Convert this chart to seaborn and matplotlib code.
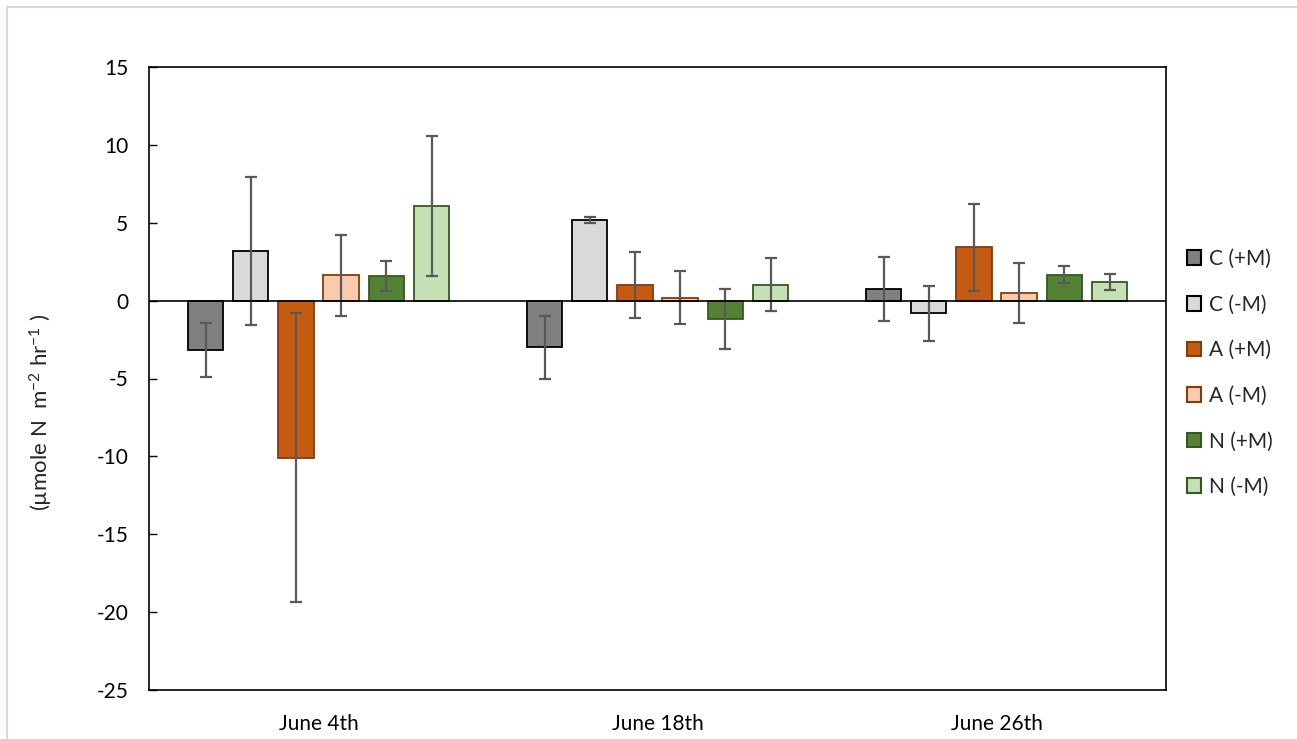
import matplotlib
matplotlib.use("Agg")
import matplotlib.pyplot as plt
from matplotlib.lines import Line2D
from matplotlib.patches import Patch
import numpy as np
import pandas as pd
import seaborn as sns

# Sampling dates and treatments
dates = ["June 4th", "June 18th", "June 26th"]
treatments = ["C (+M)", "C (-M)", "A (+M)", "A (-M)", "N (+M)", "N (-M)"]

# Mean flux per treatment, one value per date
c_plus = [-3.17, -3.00, 0.73]
c_minus = [3.18, 5.17, -0.82]
a_plus = [-10.08, 1.02, 3.42]
a_minus = [1.62, 0.19, 0.49]
n_plus = [1.56, -1.18, 1.66]
n_minus = [6.09, 1.02, 1.19]

# Error bar half-widths
c_plus_err = [1.71, 2.00, 2.05]
c_minus_err = [4.74, 0.17, 1.79]
a_plus_err = [9.28, 2.13, 2.78]
a_minus_err = [2.59, 1.70, 1.95]
n_plus_err = [0.96, 1.93, 0.56]
n_minus_err = [4.50, 1.69, 0.50]

means = [c_plus, c_minus, a_plus, a_minus, n_plus, n_minus]
errs = [c_plus_err, c_minus_err, a_plus_err, a_minus_err, n_plus_err, n_minus_err]

fill_colors = ["#808080", "#d9d9d9", "#c55a11", "#f8cbad", "#548235", "#c5e0b4"]
edge_colors = ["#000000", "#000000", "#843c0c", "#843c0c", "#385723", "#385723"]

rows = []
for t, vals, ers in zip(treatments, means, errs):
    for d, v, e in zip(dates, vals, ers):
        rows.append({"date": d, "treatment": t, "flux": v, "err": e})
df = pd.DataFrame(rows)

sns.set_theme(style="white")
plt.rcParams["font.family"] = ["Lato", "DejaVu Sans"]
plt.rcParams["axes.unicode_minus"] = False
plt.rcParams["mathtext.fontset"] = "custom"
plt.rcParams["mathtext.rm"] = "Lato"
plt.rcParams["mathtext.it"] = "Lato:italic"
plt.rcParams["mathtext.default"] = "regular"

fig = plt.figure(figsize=(12.97, 7.39), dpi=100)
ax = fig.add_axes([149 / 1297, 1 - 690 / 739, (1166 - 149) / 1297, (690 - 67) / 739])

sns.barplot(data=df, x="date", y="flux", hue="treatment", order=dates,
            hue_order=treatments, palette=fill_colors, saturation=1,
            width=0.8, gap=0.22, errorbar=None, legend=False, ax=ax, zorder=2)

for cont, ec, ers in zip(ax.containers, edge_colors, errs):
    xs, ys = [], []
    for bar in cont:
        bar.set_edgecolor(ec)
        bar.set_linewidth(1.3)
        xs.append(bar.get_x() + bar.get_width() / 2)
        ys.append(bar.get_y() + bar.get_height())
    ax.errorbar(xs, ys, yerr=ers, fmt="none", ecolor="#595959",
                elinewidth=1.6, capsize=4.3, capthick=1.6, zorder=3)

ax.axhline(0, color="black", linewidth=1.2, zorder=4)
ax.set_ylim(-25, 15)
ax.set_yticks(np.arange(-25, 16, 5))
ax.set_xlim(-0.5, 2.5)
ax.set_xlabel("")
ax.set_ylabel(r"(µmole N  m$^{-2}$ hr$^{-1}$ )", fontsize=16)
ax.yaxis.set_label_coords((55 - 149) / 1017, (690 - 412) / 623)

for s in ax.spines.values():
    s.set_color("black")
    s.set_linewidth(1.2)

ax.tick_params(axis="y", direction="in", length=6, width=1, left=True,
               labelsize=15, pad=15, colors="black")
ax.tick_params(axis="x", length=0, labelsize=15, pad=17, colors="black")

handles = [Patch(facecolor=fc, edgecolor=ec, linewidth=1.5)
           for fc, ec in zip(fill_colors, edge_colors)]
fig.legend(handles, treatments, loc="center left",
           bbox_to_anchor=(1168 / 1297, 1 - 373 / 739), frameon=False,
           fontsize=15, handlelength=0.7, handleheight=0.7, handletextpad=0.35,
           labelspacing=1.23)

# light frame around the chart area
fig.add_artist(Line2D([7 / 1297, 1.0], [1 - 7 / 739, 1 - 7 / 739],
                      color="#d9d9d9", linewidth=1.5, transform=fig.transFigure))
fig.add_artist(Line2D([7 / 1297, 7 / 1297], [0.0, 1 - 7 / 739],
                      color="#d9d9d9", linewidth=1.5, transform=fig.transFigure))

fig.savefig("out.png", dpi=100)
